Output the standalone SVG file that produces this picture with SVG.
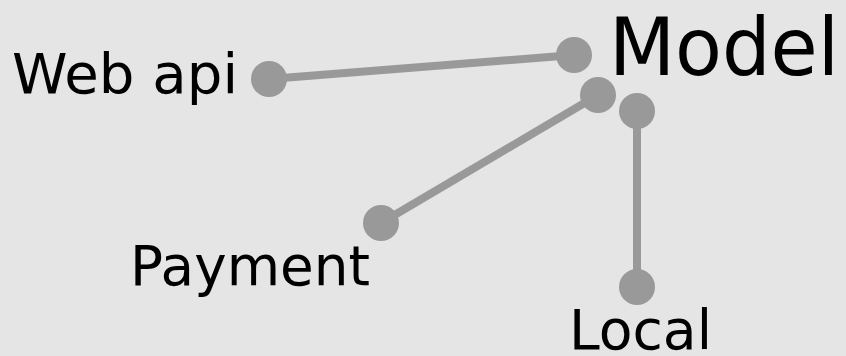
<svg xmlns="http://www.w3.org/2000/svg" width="846" height="356" viewBox="0 0 846 356">
<style>
.bg{fill:#e5e5e5}
.edge{stroke:#999999;stroke-width:8;fill:none}
.dot{fill:#999999}
.lbl{font-family:"DejaVu Sans",sans-serif;font-size:56px;fill:#000}
.big{font-size:80px}
</style>
<rect class="bg" x="0" y="0" width="846" height="356"/>
<g id="connectors">
<line class="edge" x1="269" y1="79" x2="574" y2="55"/>
<line class="edge" x1="598" y1="95" x2="381" y2="223"/>
<line class="edge" x1="637" y1="111" x2="637" y2="287"/>
<circle class="dot" cx="269" cy="79" r="18"/>
<circle class="dot" cx="574" cy="55" r="18"/>
<circle class="dot" cx="598" cy="95" r="18"/>
<circle class="dot" cx="381" cy="223" r="18"/>
<circle class="dot" cx="637" cy="111" r="18"/>
<circle class="dot" cx="637" cy="287" r="18"/>
</g>
<g id="model"><text class="lbl big" x="609" y="75" textLength="230" lengthAdjust="spacingAndGlyphs">Model</text></g>
<g id="webapi"><text class="lbl" x="12" y="93" textLength="226" lengthAdjust="spacingAndGlyphs">Web api</text></g>
<g id="payment"><text class="lbl" x="130" y="285" textLength="240" lengthAdjust="spacingAndGlyphs">Payment</text></g>
<g id="local"><text class="lbl" x="569" y="349" textLength="143" lengthAdjust="spacingAndGlyphs">Local</text></g>
</svg>
